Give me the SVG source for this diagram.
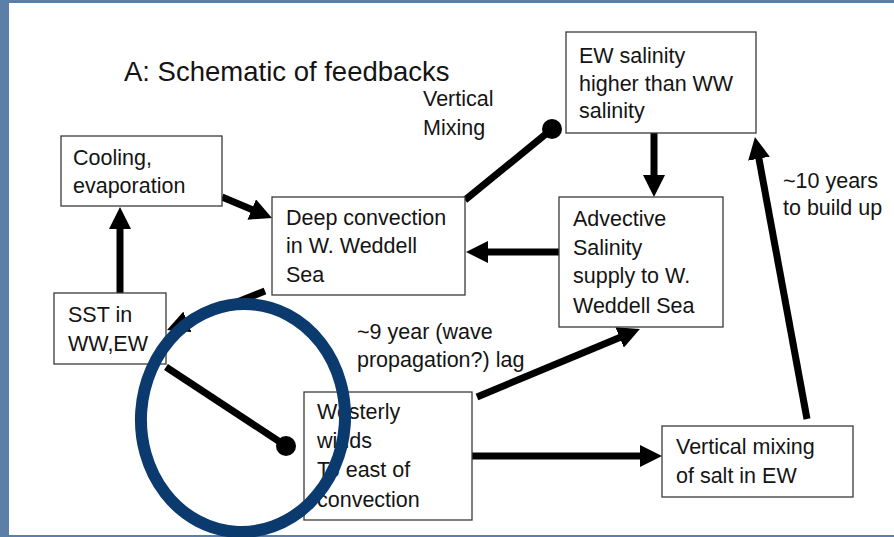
<svg xmlns="http://www.w3.org/2000/svg" width="894" height="537" viewBox="0 0 894 537">
<style>
  .box { fill: #ffffff; stroke: #3a3a3a; stroke-width: 1.3; }
  .t { font-family: "Liberation Sans", Arial, sans-serif; font-size: 21.5px; fill: #141414; }
  .title { font-family: "Liberation Sans", Arial, sans-serif; font-size: 27.5px; fill: #141414; }
  .c { stroke: #000000; stroke-width: 7; fill: none; }
  .arr { marker-end: url(#ah); }
  .dot { fill: #000000; }
</style>
<defs>
  <marker id="ah" markerUnits="userSpaceOnUse" markerWidth="22" markerHeight="22" refX="8" refY="11" orient="auto" viewBox="0 0 22 22">
    <path d="M0,0 L22,11 L0,22 z" fill="#000000"/>
  </marker>
</defs>
<rect x="0" y="0" width="894" height="537" fill="#5b7fa9"/>
<rect x="9" y="3" width="885" height="532" fill="#ffffff"/>

<text class="title" x="124" y="81">A: Schematic of feedbacks</text>

<g id="connectors">
  <line class="c arr" x1="222" y1="197" x2="259.1" y2="212.6"/>
  <line class="c arr" x1="120" y1="293" x2="120" y2="221"/>
  <line class="c arr" x1="265" y1="291" x2="180" y2="324.8"/>
  <line class="c arr" x1="559" y1="252" x2="480" y2="252"/>
  <line class="c arr" x1="654" y1="133" x2="654" y2="183"/>
  <line class="c arr" x1="477" y1="397" x2="627" y2="334.4"/>
  <line class="c arr" x1="472" y1="456" x2="648" y2="456"/>
  <line class="c arr" x1="807" y1="419" x2="757.5" y2="150.8"/>
  <line class="c" x1="465" y1="200" x2="552" y2="129"/>
  <circle class="dot" cx="552" cy="129" r="10"/>
  <line class="c" x1="166" y1="367" x2="286" y2="446"/>
  <circle class="dot" cx="286" cy="446" r="10"/>
  <text class="t" x="423" y="106">Vertical</text>
  <text class="t" x="423" y="135">Mixing</text>
  <text class="t" x="357" y="339">~9 year (wave</text>
  <text class="t" x="357" y="367">propagation?) lag</text>
  <text class="t" x="783" y="188">~10 years</text>
  <text class="t" x="783" y="215">to build up</text>
</g>

<g id="cooling">
  <rect class="box" x="61" y="136" width="161" height="70"/>
  <text class="t" x="73" y="165">Cooling,</text>
  <text class="t" x="73" y="193">evaporation</text>
</g>
<g id="sst">
  <rect class="box" x="54" y="293" width="112" height="71"/>
  <text class="t" x="68" y="322">SST in</text>
  <text class="t" x="68" y="351">WW,EW</text>
</g>
<g id="deep-convection">
  <rect class="box" x="272" y="197" width="193" height="98"/>
  <text class="t" x="286" y="225">Deep convection</text>
  <text class="t" x="286" y="253">in W. Weddell</text>
  <text class="t" x="286" y="282">Sea</text>
</g>
<g id="ew-salinity">
  <rect class="box" x="566" y="32" width="190" height="101"/>
  <text class="t" x="579" y="63">EW salinity</text>
  <text class="t" x="579" y="91">higher than WW</text>
  <text class="t" x="579" y="118">salinity</text>
</g>
<g id="advective">
  <rect class="box" x="559" y="197" width="164" height="130"/>
  <text class="t" x="573" y="226">Advective</text>
  <text class="t" x="573" y="255">Salinity</text>
  <text class="t" x="573" y="283">supply to W.</text>
  <text class="t" x="573" y="313">Weddell Sea</text>
</g>
<g id="westerly">
  <rect class="box" x="304" y="392" width="168" height="128"/>
  <text class="t" x="317" y="419">Westerly</text>
  <text class="t" x="317" y="448">winds</text>
  <text class="t" x="317" y="477">To east of</text>
  <text class="t" x="317" y="507">convection</text>
</g>
<g id="vertical-mixing-salt">
  <rect class="box" x="662" y="426" width="191" height="71"/>
  <text class="t" x="676" y="454">Vertical mixing</text>
  <text class="t" x="676" y="483">of salt in EW</text>
</g>

<ellipse cx="243" cy="418" rx="102" ry="114" fill="none" stroke="#0b3a6e" stroke-width="12" transform="rotate(4 243 418)"/>
</svg>
